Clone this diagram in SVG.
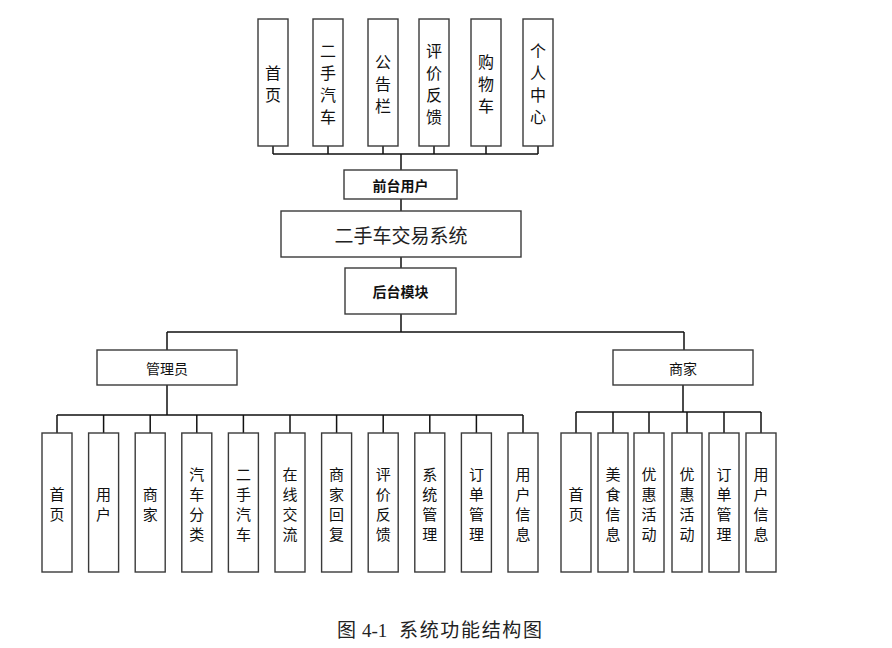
<svg xmlns="http://www.w3.org/2000/svg" width="892" height="648" viewBox="0 0 892 648">
<style>
.box{fill:#fff;stroke:#3a3a3a;stroke-width:1.4}
.t{font-family:"Noto Sans CJK SC","Liberation Sans",sans-serif;fill:#111;text-anchor:middle;dominant-baseline:central}
.top{font-size:16px}
.bot{font-size:15px}
.mid{font-size:14px}
.main{font-size:19px;fill:#222}
.cap{font-family:"Liberation Serif","Noto Sans CJK SC",serif;font-size:19px;fill:#222}
.ln{fill:none;stroke:#111;stroke-width:1.5}
</style>
<g id="connectors">
<path class="ln" d="M273 146V154M328 146V154M383 146V154M434 146V154M486 146V154M538 146V154M273 154H538M401 154V170"/>
<path class="ln" d="M401 199V211M401 257V268M401 314V332M167 332H684M167 332V350M684 332V350"/>
<path class="ln" d="M167 385V415M57 415H523M57 415V433M103.6 415V433M150.2 415V433M196.8 415V433M243.4 415V433M290 415V433M336.6 415V433M383.2 415V433M429.8 415V433M476.4 415V433M523 415V433"/>
<path class="ln" d="M683 385V412M576 412H761M576 412V433M613 412V433M649 412V433M687 412V433M724 412V433M761 412V433"/>
</g>
<g id="top-home"><rect class="box" x="258" y="19" width="30" height="127"/><text class="t top" x="273"><tspan x="273" y="71.5">首</tspan><tspan x="273" y="93.5">页</tspan></text></g>
<g id="top-usedcar"><rect class="box" x="313" y="19" width="30" height="127"/><text class="t top" x="328"><tspan x="328" y="49.5">二</tspan><tspan x="328" y="71.5">手</tspan><tspan x="328" y="93.5">汽</tspan><tspan x="328" y="115.5">车</tspan></text></g>
<g id="top-notice"><rect class="box" x="368" y="19" width="30" height="127"/><text class="t top" x="383"><tspan x="383" y="60.5">公</tspan><tspan x="383" y="82.5">告</tspan><tspan x="383" y="104.5">栏</tspan></text></g>
<g id="top-feedback"><rect class="box" x="419" y="19" width="30" height="127"/><text class="t top" x="434"><tspan x="434" y="49.5">评</tspan><tspan x="434" y="71.5">价</tspan><tspan x="434" y="93.5">反</tspan><tspan x="434" y="115.5">馈</tspan></text></g>
<g id="top-cart"><rect class="box" x="471" y="19" width="30" height="127"/><text class="t top" x="486"><tspan x="486" y="60.5">购</tspan><tspan x="486" y="82.5">物</tspan><tspan x="486" y="104.5">车</tspan></text></g>
<g id="top-center"><rect class="box" x="523" y="19" width="30" height="127"/><text class="t top" x="538"><tspan x="538" y="49.5">个</tspan><tspan x="538" y="71.5">人</tspan><tspan x="538" y="93.5">中</tspan><tspan x="538" y="115.5">心</tspan></text></g>
<g id="front-user"><rect class="box" x="344" y="170" width="113" height="29"/><text class="t mid" x="400.5" y="184.5" font-weight="bold">前台用户</text></g>
<g id="system"><rect class="box" x="281" y="211" width="240" height="46"/><text class="t main" x="401" y="234">二手车交易系统</text></g>
<g id="backend"><rect class="box" x="345" y="268" width="111" height="46"/><text class="t mid" x="400.5" y="291" font-weight="bold">后台模块</text></g>
<g id="admin"><rect class="box" x="97" y="350" width="140" height="35"/><text class="t mid" x="167" y="367.5">管理员</text></g>
<g id="merchant"><rect class="box" x="613" y="350" width="140" height="35"/><text class="t mid" x="683" y="367.5">商家</text></g>
<g id="a-home"><rect class="box" x="42" y="433" width="30" height="139"/><text class="t bot"><tspan x="57" y="492.5">首</tspan><tspan x="57" y="512.5">页</tspan></text></g>
<g id="a-user"><rect class="box" x="88.6" y="433" width="30" height="139"/><text class="t bot"><tspan x="103.6" y="492.5">用</tspan><tspan x="103.6" y="512.5">户</tspan></text></g>
<g id="a-merchant"><rect class="box" x="135.2" y="433" width="30" height="139"/><text class="t bot"><tspan x="150.2" y="492.5">商</tspan><tspan x="150.2" y="512.5">家</tspan></text></g>
<g id="a-category"><rect class="box" x="181.8" y="433" width="30" height="139"/><text class="t bot"><tspan x="196.8" y="472.5">汽</tspan><tspan x="196.8" y="492.5">车</tspan><tspan x="196.8" y="512.5">分</tspan><tspan x="196.8" y="532.5">类</tspan></text></g>
<g id="a-usedcar"><rect class="box" x="228.4" y="433" width="30" height="139"/><text class="t bot"><tspan x="243.4" y="472.5">二</tspan><tspan x="243.4" y="492.5">手</tspan><tspan x="243.4" y="512.5">汽</tspan><tspan x="243.4" y="532.5">车</tspan></text></g>
<g id="a-chat"><rect class="box" x="275" y="433" width="30" height="139"/><text class="t bot"><tspan x="290" y="472.5">在</tspan><tspan x="290" y="492.5">线</tspan><tspan x="290" y="512.5">交</tspan><tspan x="290" y="532.5">流</tspan></text></g>
<g id="a-reply"><rect class="box" x="321.6" y="433" width="30" height="139"/><text class="t bot"><tspan x="336.6" y="472.5">商</tspan><tspan x="336.6" y="492.5">家</tspan><tspan x="336.6" y="512.5">回</tspan><tspan x="336.6" y="532.5">复</tspan></text></g>
<g id="a-feedback"><rect class="box" x="368.2" y="433" width="30" height="139"/><text class="t bot"><tspan x="383.2" y="472.5">评</tspan><tspan x="383.2" y="492.5">价</tspan><tspan x="383.2" y="512.5">反</tspan><tspan x="383.2" y="532.5">馈</tspan></text></g>
<g id="a-system"><rect class="box" x="414.8" y="433" width="30" height="139"/><text class="t bot"><tspan x="429.8" y="472.5">系</tspan><tspan x="429.8" y="492.5">统</tspan><tspan x="429.8" y="512.5">管</tspan><tspan x="429.8" y="532.5">理</tspan></text></g>
<g id="a-order"><rect class="box" x="461.4" y="433" width="30" height="139"/><text class="t bot"><tspan x="476.4" y="472.5">订</tspan><tspan x="476.4" y="492.5">单</tspan><tspan x="476.4" y="512.5">管</tspan><tspan x="476.4" y="532.5">理</tspan></text></g>
<g id="a-userinfo"><rect class="box" x="508" y="433" width="30" height="139"/><text class="t bot"><tspan x="523" y="472.5">用</tspan><tspan x="523" y="492.5">户</tspan><tspan x="523" y="512.5">信</tspan><tspan x="523" y="532.5">息</tspan></text></g>
<g id="m-home"><rect class="box" x="561" y="433" width="30" height="139"/><text class="t bot"><tspan x="576" y="492.5">首</tspan><tspan x="576" y="512.5">页</tspan></text></g>
<g id="m-food"><rect class="box" x="598" y="433" width="30" height="139"/><text class="t bot"><tspan x="613" y="472.5">美</tspan><tspan x="613" y="492.5">食</tspan><tspan x="613" y="512.5">信</tspan><tspan x="613" y="532.5">息</tspan></text></g>
<g id="m-promo1"><rect class="box" x="634" y="433" width="30" height="139"/><text class="t bot"><tspan x="649" y="472.5">优</tspan><tspan x="649" y="492.5">惠</tspan><tspan x="649" y="512.5">活</tspan><tspan x="649" y="532.5">动</tspan></text></g>
<g id="m-promo2"><rect class="box" x="672" y="433" width="30" height="139"/><text class="t bot"><tspan x="687" y="472.5">优</tspan><tspan x="687" y="492.5">惠</tspan><tspan x="687" y="512.5">活</tspan><tspan x="687" y="532.5">动</tspan></text></g>
<g id="m-order"><rect class="box" x="709" y="433" width="30" height="139"/><text class="t bot"><tspan x="724" y="472.5">订</tspan><tspan x="724" y="492.5">单</tspan><tspan x="724" y="512.5">管</tspan><tspan x="724" y="532.5">理</tspan></text></g>
<g id="m-userinfo"><rect class="box" x="746" y="433" width="30" height="139"/><text class="t bot"><tspan x="761" y="472.5">用</tspan><tspan x="761" y="492.5">户</tspan><tspan x="761" y="512.5">信</tspan><tspan x="761" y="532.5">息</tspan></text></g>
<text class="cap" y="637"><tspan x="337">图</tspan><tspan x="362">4-1</tspan><tspan x="399" textLength="143" lengthAdjust="spacing">系统功能结构图</tspan></text>
</svg>
